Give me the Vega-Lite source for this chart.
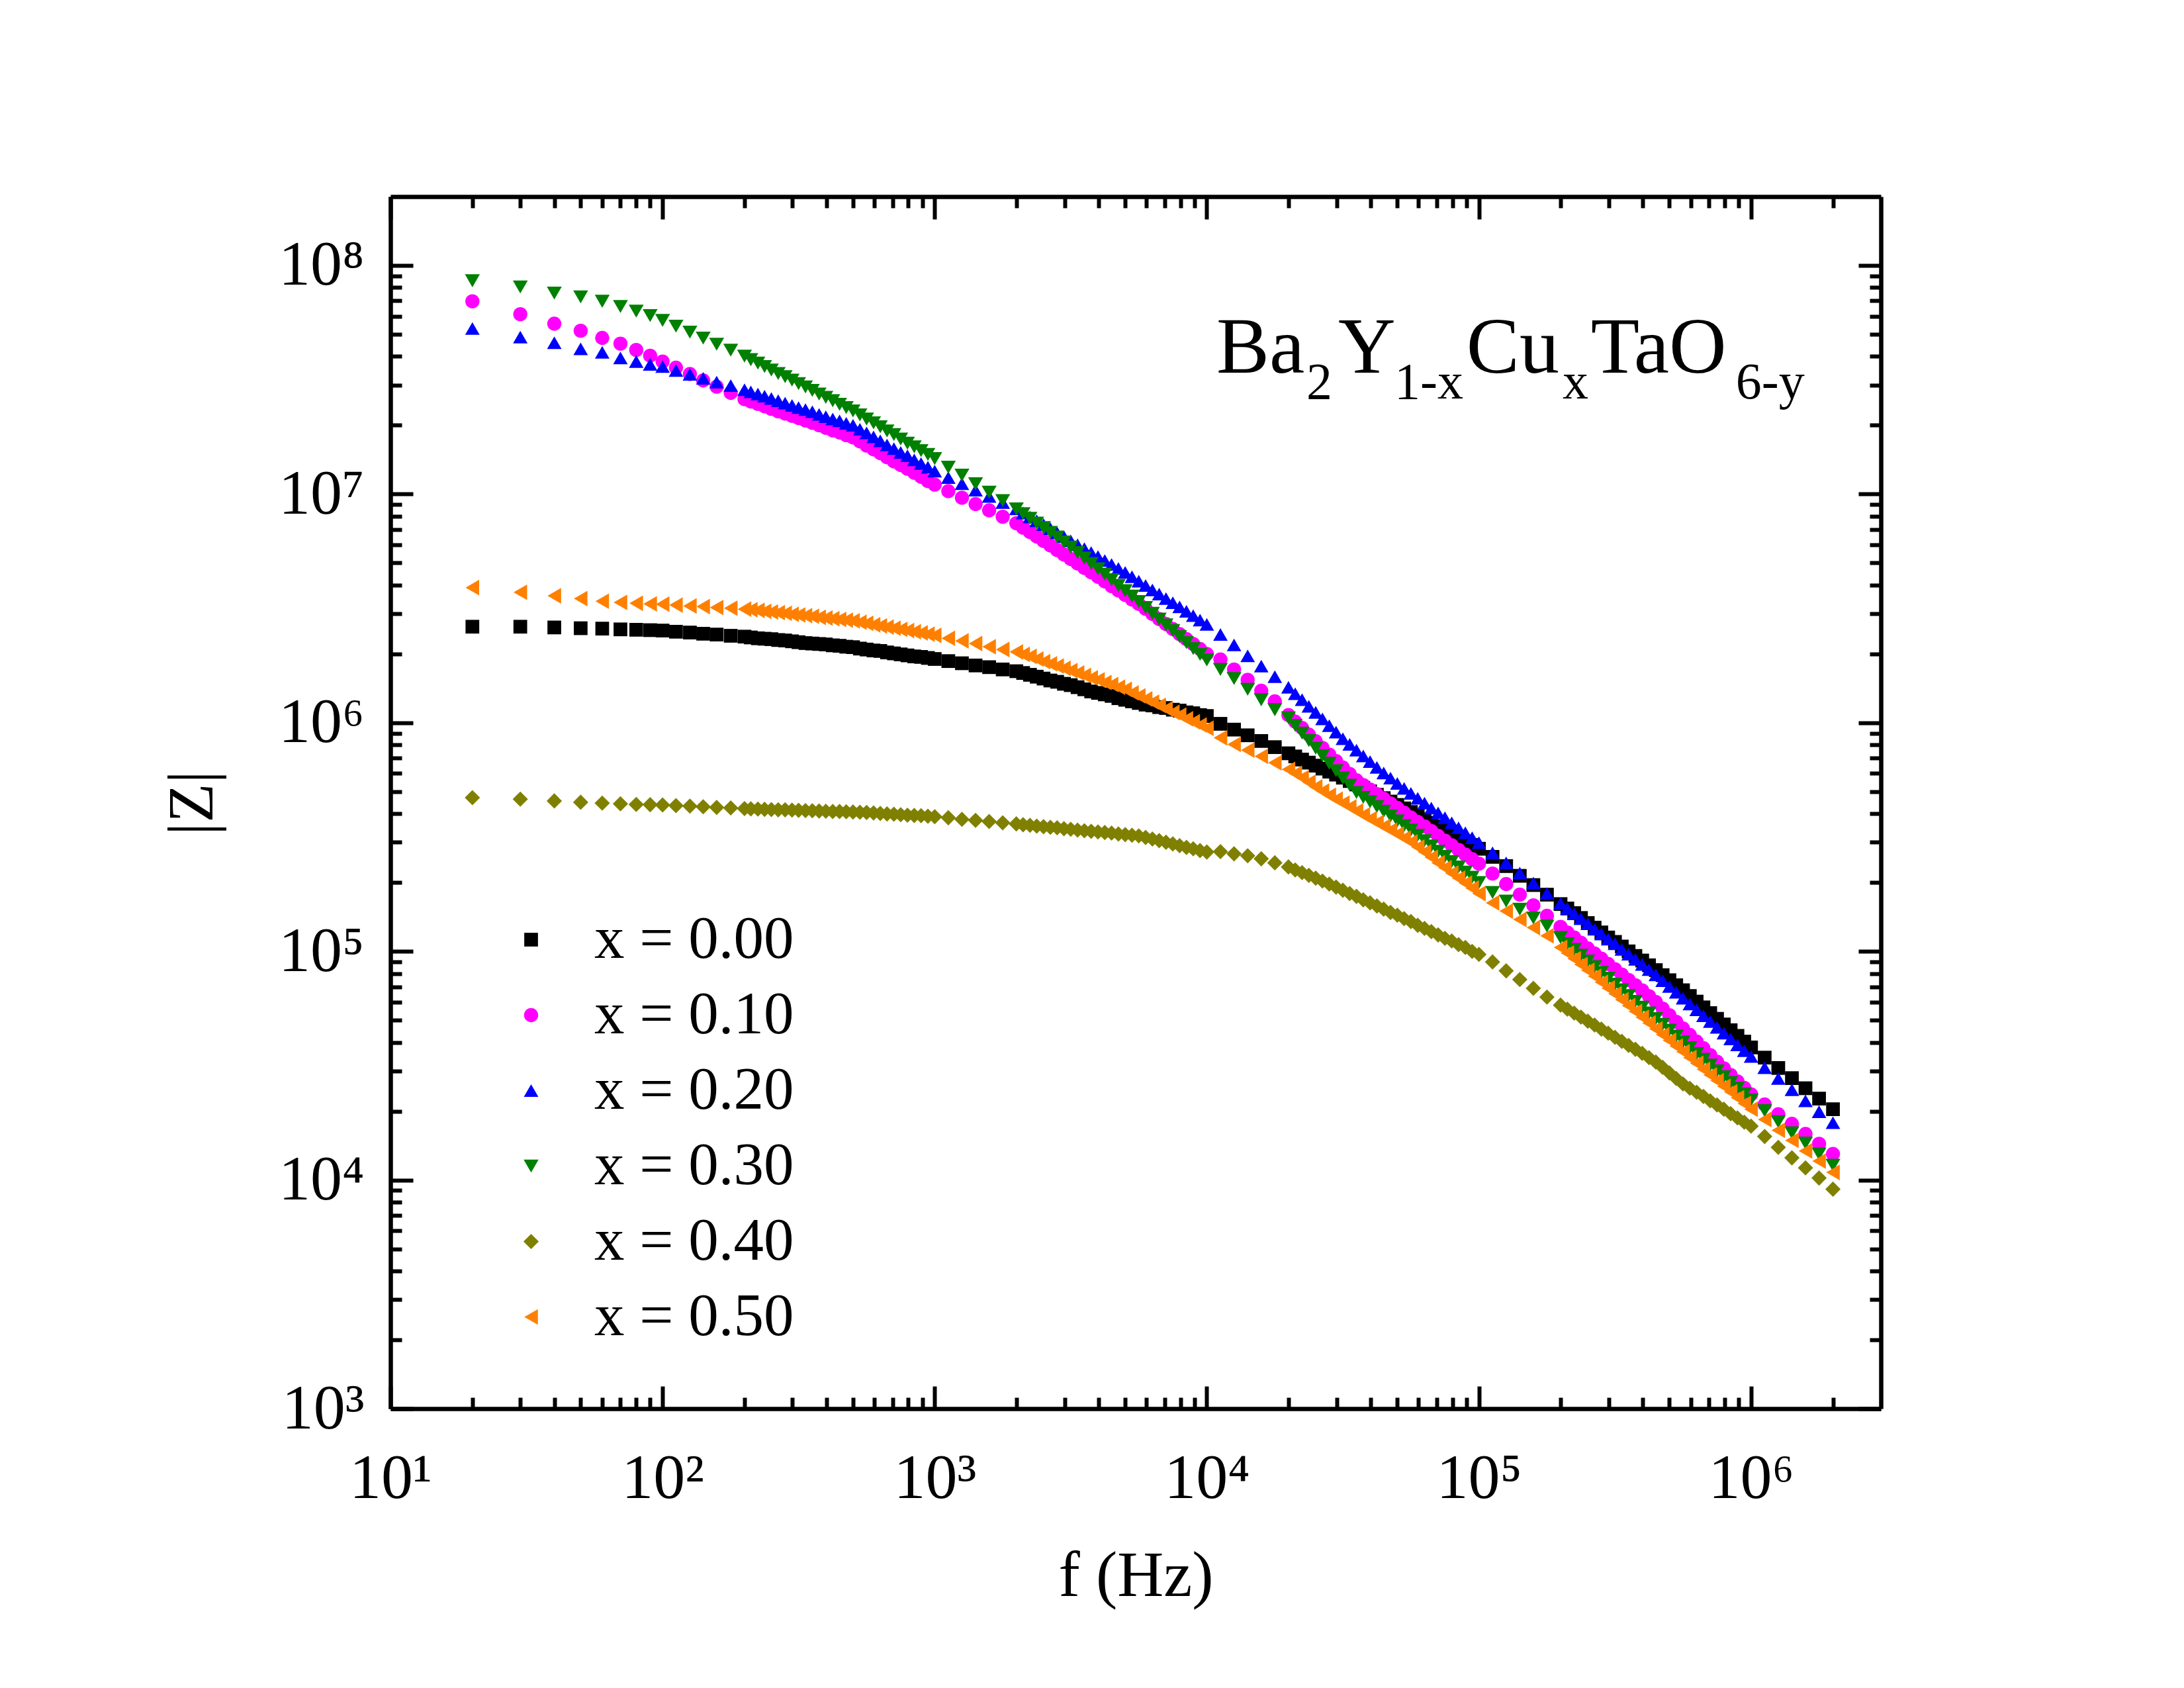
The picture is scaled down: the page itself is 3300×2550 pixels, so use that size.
{
  "$schema": "https://vega.github.io/schema/vega-lite/v6.json",
  "width": 2252,
  "height": 1831,
  "autosize": {"type": "none"},
  "padding": {"left": 590, "top": 297, "right": 458, "bottom": 422},
  "background": "white",
  "config": {
    "view": {"stroke": null},
    "font": "Liberation Serif",
    "axis": {
      "grid": false,
      "domainColor": "black",
      "domainWidth": 6.5,
      "tickColor": "black",
      "tickWidth": 6,
      "labelFont": "Liberation Serif",
      "labelFontSize": 96,
      "labelColor": "black",
      "labelOverlap": false,
      "labelFlush": false,
      "labelBound": false,
      "titleFont": "Liberation Serif",
      "titleFontSize": 97,
      "titleFontWeight": "normal",
      "titleColor": "black"
    }
  },
  "datasets": {
    "impedance": [
      {"x":"0.00","f":20,"z":2.63e6},{"x":"0.00","f":30,"z":2.63e6},{"x":"0.00","f":40,"z":2.61e6},{"x":"0.00","f":50,"z":2.59e6},{"x":"0.00","f":60,"z":2.58e6},{"x":"0.00","f":70,"z":2.56e6},{"x":"0.00","f":80,"z":2.55e6},{"x":"0.00","f":90,"z":2.54e6},
      {"x":"0.00","f":100,"z":2.53e6},{"x":"0.00","f":112,"z":2.50e6},{"x":"0.00","f":126,"z":2.48e6},{"x":"0.00","f":141,"z":2.45e6},{"x":"0.00","f":158,"z":2.43e6},{"x":"0.00","f":178,"z":2.40e6},{"x":"0.00","f":200,"z":2.38e6},{"x":"0.00","f":224,"z":2.34e6},{"x":"0.00","f":251,"z":2.32e6},{"x":"0.00","f":282,"z":2.29e6},{"x":"0.00","f":316,"z":2.25e6},{"x":"0.00","f":355,"z":2.22e6},{"x":"0.00","f":398,"z":2.20e6},{"x":"0.00","f":447,"z":2.17e6},{"x":"0.00","f":501,"z":2.14e6},{"x":"0.00","f":562,"z":2.09e6},{"x":"0.00","f":631,"z":2.06e6},{"x":"0.00","f":708,"z":2.01e6},{"x":"0.00","f":794,"z":1.97e6},{"x":"0.00","f":891,"z":1.94e6},
      {"x":"0.00","f":1000,"z":1.90e6},{"x":"0.00","f":1122,"z":1.86e6},{"x":"0.00","f":1259,"z":1.82e6},{"x":"0.00","f":1413,"z":1.78e6},{"x":"0.00","f":1585,"z":1.75e6},{"x":"0.00","f":1778,"z":1.71e6},{"x":"0.00","f":1995,"z":1.68e6},{"x":"0.00","f":2239,"z":1.62e6},{"x":"0.00","f":2512,"z":1.56e6},{"x":"0.00","f":2818,"z":1.51e6},{"x":"0.00","f":3162,"z":1.46e6},{"x":"0.00","f":3548,"z":1.40e6},{"x":"0.00","f":3981,"z":1.35e6},{"x":"0.00","f":4467,"z":1.31e6},{"x":"0.00","f":5012,"z":1.26e6},{"x":"0.00","f":5623,"z":1.22e6},{"x":"0.00","f":6310,"z":1.19e6},{"x":"0.00","f":7079,"z":1.16e6},{"x":"0.00","f":7943,"z":1.13e6},{"x":"0.00","f":8913,"z":1.10e6},
      {"x":"0.00","f":10000,"z":1.07e6},{"x":"0.00","f":11220,"z":9.89e5},{"x":"0.00","f":12590,"z":9.33e5},{"x":"0.00","f":14130,"z":8.81e5},{"x":"0.00","f":15850,"z":8.32e5},{"x":"0.00","f":17780,"z":7.82e5},{"x":"0.00","f":19950,"z":7.35e5},{"x":"0.00","f":22390,"z":6.90e5},{"x":"0.00","f":25120,"z":6.49e5},{"x":"0.00","f":28180,"z":6.11e5},{"x":"0.00","f":31620,"z":5.75e5},{"x":"0.00","f":35480,"z":5.37e5},{"x":"0.00","f":39810,"z":5.01e5},{"x":"0.00","f":44670,"z":4.68e5},{"x":"0.00","f":50120,"z":4.37e5},{"x":"0.00","f":56230,"z":4.07e5},{"x":"0.00","f":63100,"z":3.78e5},{"x":"0.00","f":70790,"z":3.52e5},{"x":"0.00","f":79430,"z":3.27e5},{"x":"0.00","f":89130,"z":3.03e5},
      {"x":"0.00","f":100000,"z":2.81e5},{"x":"0.00","f":112200,"z":2.59e5},{"x":"0.00","f":125900,"z":2.36e5},{"x":"0.00","f":141300,"z":2.14e5},{"x":"0.00","f":158500,"z":1.95e5},{"x":"0.00","f":177800,"z":1.77e5},{"x":"0.00","f":199500,"z":1.61e5},{"x":"0.00","f":223900,"z":1.47e5},{"x":"0.00","f":251200,"z":1.33e5},{"x":"0.00","f":281800,"z":1.21e5},{"x":"0.00","f":316200,"z":1.10e5},{"x":"0.00","f":354800,"z":1.00e5},{"x":"0.00","f":398100,"z":9.12e4},{"x":"0.00","f":446700,"z":8.28e4},{"x":"0.00","f":501200,"z":7.48e4},{"x":"0.00","f":562300,"z":6.76e4},{"x":"0.00","f":631000,"z":6.03e4},{"x":"0.00","f":707900,"z":5.37e4},{"x":"0.00","f":794300,"z":4.79e4},{"x":"0.00","f":891300,"z":4.27e4},
      {"x":"0.00","f":1000000,"z":3.80e4},{"x":"0.00","f":1122000,"z":3.43e4},{"x":"0.00","f":1259000,"z":3.09e4},{"x":"0.00","f":1413000,"z":2.79e4},{"x":"0.00","f":1585000,"z":2.52e4},{"x":"0.00","f":1778000,"z":2.27e4},{"x":"0.00","f":2000000,"z":2.04e4},
      {"x":"0.00","f":211,"z":2.36e6},{"x":"0.00","f":237,"z":2.33e6},{"x":"0.00","f":266,"z":2.30e6},{"x":"0.00","f":299,"z":2.27e6},{"x":"0.00","f":335,"z":2.23e6},{"x":"0.00","f":376,"z":2.21e6},{"x":"0.00","f":422,"z":2.18e6},{"x":"0.00","f":473,"z":2.15e6},{"x":"0.00","f":531,"z":2.11e6},{"x":"0.00","f":596,"z":2.07e6},{"x":"0.00","f":668,"z":2.03e6},{"x":"0.00","f":750,"z":1.99e6},{"x":"0.00","f":841,"z":1.95e6},{"x":"0.00","f":944,"z":1.92e6},
      {"x":"0.00","f":2113,"z":1.65e6},{"x":"0.00","f":2371,"z":1.59e6},{"x":"0.00","f":2661,"z":1.53e6},{"x":"0.00","f":2985,"z":1.48e6},{"x":"0.00","f":3350,"z":1.43e6},{"x":"0.00","f":3758,"z":1.37e6},{"x":"0.00","f":4217,"z":1.33e6},{"x":"0.00","f":4732,"z":1.28e6},{"x":"0.00","f":5309,"z":1.24e6},{"x":"0.00","f":5957,"z":1.20e6},{"x":"0.00","f":6683,"z":1.17e6},{"x":"0.00","f":7499,"z":1.14e6},{"x":"0.00","f":8414,"z":1.11e6},{"x":"0.00","f":9441,"z":1.08e6},
      {"x":"0.00","f":21130,"z":7.12e5},{"x":"0.00","f":23710,"z":6.69e5},{"x":"0.00","f":26610,"z":6.30e5},{"x":"0.00","f":29850,"z":5.93e5},{"x":"0.00","f":33500,"z":5.56e5},{"x":"0.00","f":37580,"z":5.19e5},{"x":"0.00","f":42170,"z":4.84e5},{"x":"0.00","f":47320,"z":4.52e5},{"x":"0.00","f":53090,"z":4.22e5},{"x":"0.00","f":59570,"z":3.92e5},{"x":"0.00","f":66830,"z":3.65e5},{"x":"0.00","f":74990,"z":3.39e5},{"x":"0.00","f":84140,"z":3.15e5},{"x":"0.00","f":94410,"z":2.92e5},
      {"x":"0.00","f":211300,"z":1.54e5},{"x":"0.00","f":237100,"z":1.40e5},{"x":"0.00","f":266100,"z":1.27e5},{"x":"0.00","f":298500,"z":1.15e5},{"x":"0.00","f":335000,"z":1.05e5},{"x":"0.00","f":375800,"z":9.55e4},{"x":"0.00","f":421700,"z":8.69e4},{"x":"0.00","f":473200,"z":7.87e4},{"x":"0.00","f":530900,"z":7.11e4},{"x":"0.00","f":595700,"z":6.38e4},{"x":"0.00","f":668300,"z":5.69e4},{"x":"0.00","f":749900,"z":5.07e4},{"x":"0.00","f":841400,"z":4.52e4},{"x":"0.00","f":944100,"z":4.03e4},

      {"x":"0.10","f":20,"z":6.97e7},{"x":"0.10","f":30,"z":6.12e7},{"x":"0.10","f":40,"z":5.56e7},{"x":"0.10","f":50,"z":5.18e7},{"x":"0.10","f":60,"z":4.82e7},{"x":"0.10","f":70,"z":4.55e7},{"x":"0.10","f":80,"z":4.27e7},{"x":"0.10","f":90,"z":4.03e7},
      {"x":"0.10","f":100,"z":3.80e7},{"x":"0.10","f":112,"z":3.57e7},{"x":"0.10","f":126,"z":3.35e7},{"x":"0.10","f":141,"z":3.14e7},{"x":"0.10","f":158,"z":2.95e7},{"x":"0.10","f":178,"z":2.77e7},{"x":"0.10","f":200,"z":2.60e7},{"x":"0.10","f":224,"z":2.48e7},{"x":"0.10","f":251,"z":2.36e7},{"x":"0.10","f":282,"z":2.25e7},{"x":"0.10","f":316,"z":2.15e7},{"x":"0.10","f":355,"z":2.05e7},{"x":"0.10","f":398,"z":1.95e7},{"x":"0.10","f":447,"z":1.86e7},{"x":"0.10","f":501,"z":1.77e7},{"x":"0.10","f":562,"z":1.63e7},{"x":"0.10","f":631,"z":1.51e7},{"x":"0.10","f":708,"z":1.39e7},{"x":"0.10","f":794,"z":1.29e7},{"x":"0.10","f":891,"z":1.19e7},
      {"x":"0.10","f":1000,"z":1.10e7},{"x":"0.10","f":1122,"z":1.03e7},{"x":"0.10","f":1259,"z":9.64e6},{"x":"0.10","f":1413,"z":9.04e6},{"x":"0.10","f":1585,"z":8.49e6},{"x":"0.10","f":1778,"z":7.96e6},{"x":"0.10","f":1995,"z":7.46e6},{"x":"0.10","f":2239,"z":6.82e6},{"x":"0.10","f":2512,"z":6.24e6},{"x":"0.10","f":2818,"z":5.69e6},{"x":"0.10","f":3162,"z":5.20e6},{"x":"0.10","f":3548,"z":4.75e6},{"x":"0.10","f":3981,"z":4.35e6},{"x":"0.10","f":4467,"z":3.96e6},{"x":"0.10","f":5012,"z":3.62e6},{"x":"0.10","f":5623,"z":3.31e6},{"x":"0.10","f":6310,"z":2.99e6},{"x":"0.10","f":7079,"z":2.70e6},{"x":"0.10","f":7943,"z":2.44e6},{"x":"0.10","f":8913,"z":2.21e6},
      {"x":"0.10","f":10000,"z":2.00e6},{"x":"0.10","f":11220,"z":1.89e6},{"x":"0.10","f":12590,"z":1.71e6},{"x":"0.10","f":14130,"z":1.54e6},{"x":"0.10","f":15850,"z":1.38e6},{"x":"0.10","f":17780,"z":1.24e6},{"x":"0.10","f":19950,"z":1.08e6},{"x":"0.10","f":22390,"z":9.48e5},{"x":"0.10","f":25120,"z":8.30e5},{"x":"0.10","f":28180,"z":7.26e5},{"x":"0.10","f":31620,"z":6.37e5},{"x":"0.10","f":35480,"z":5.60e5},{"x":"0.10","f":39810,"z":5.10e5},{"x":"0.10","f":44670,"z":4.65e5},{"x":"0.10","f":50120,"z":4.24e5},{"x":"0.10","f":56230,"z":3.85e5},{"x":"0.10","f":63100,"z":3.52e5},{"x":"0.10","f":70790,"z":3.20e5},{"x":"0.10","f":79430,"z":2.91e5},{"x":"0.10","f":89130,"z":2.65e5},
      {"x":"0.10","f":100000,"z":2.42e5},{"x":"0.10","f":112200,"z":2.19e5},{"x":"0.10","f":125900,"z":1.97e5},{"x":"0.10","f":141300,"z":1.77e5},{"x":"0.10","f":158500,"z":1.59e5},{"x":"0.10","f":177800,"z":1.43e5},{"x":"0.10","f":199500,"z":1.28e5},{"x":"0.10","f":223900,"z":1.15e5},{"x":"0.10","f":251200,"z":1.03e5},{"x":"0.10","f":281800,"z":9.29e4},{"x":"0.10","f":316200,"z":8.36e4},{"x":"0.10","f":354800,"z":7.50e4},{"x":"0.10","f":398100,"z":6.75e4},{"x":"0.10","f":446700,"z":6.01e4},{"x":"0.10","f":501200,"z":5.26e4},{"x":"0.10","f":562300,"z":4.60e4},{"x":"0.10","f":631000,"z":4.03e4},{"x":"0.10","f":707900,"z":3.52e4},{"x":"0.10","f":794300,"z":3.08e4},{"x":"0.10","f":891300,"z":2.70e4},
      {"x":"0.10","f":1000000,"z":2.37e4},{"x":"0.10","f":1122000,"z":2.14e4},{"x":"0.10","f":1259000,"z":1.94e4},{"x":"0.10","f":1413000,"z":1.76e4},{"x":"0.10","f":1585000,"z":1.59e4},{"x":"0.10","f":1778000,"z":1.44e4},{"x":"0.10","f":2000000,"z":1.30e4},
      {"x":"0.10","f":211,"z":2.54e7},{"x":"0.10","f":237,"z":2.42e7},{"x":"0.10","f":266,"z":2.30e7},{"x":"0.10","f":299,"z":2.20e7},{"x":"0.10","f":335,"z":2.10e7},{"x":"0.10","f":376,"z":2.00e7},{"x":"0.10","f":422,"z":1.90e7},{"x":"0.10","f":473,"z":1.81e7},{"x":"0.10","f":531,"z":1.70e7},{"x":"0.10","f":596,"z":1.57e7},{"x":"0.10","f":668,"z":1.45e7},{"x":"0.10","f":750,"z":1.34e7},{"x":"0.10","f":841,"z":1.24e7},{"x":"0.10","f":944,"z":1.14e7},
      {"x":"0.10","f":2113,"z":7.13e6},{"x":"0.10","f":2371,"z":6.52e6},{"x":"0.10","f":2661,"z":5.96e6},{"x":"0.10","f":2985,"z":5.44e6},{"x":"0.10","f":3350,"z":4.97e6},{"x":"0.10","f":3758,"z":4.55e6},{"x":"0.10","f":4217,"z":4.15e6},{"x":"0.10","f":4732,"z":3.79e6},{"x":"0.10","f":5309,"z":3.46e6},{"x":"0.10","f":5957,"z":3.15e6},{"x":"0.10","f":6683,"z":2.84e6},{"x":"0.10","f":7499,"z":2.57e6},{"x":"0.10","f":8414,"z":2.32e6},{"x":"0.10","f":9441,"z":2.10e6},
      {"x":"0.10","f":21130,"z":1.01e6},{"x":"0.10","f":23710,"z":8.87e5},{"x":"0.10","f":26610,"z":7.76e5},{"x":"0.10","f":29850,"z":6.80e5},{"x":"0.10","f":33500,"z":5.97e5},{"x":"0.10","f":37580,"z":5.34e5},{"x":"0.10","f":42170,"z":4.87e5},{"x":"0.10","f":47320,"z":4.44e5},{"x":"0.10","f":53090,"z":4.04e5},{"x":"0.10","f":59570,"z":3.68e5},{"x":"0.10","f":66830,"z":3.36e5},{"x":"0.10","f":74990,"z":3.05e5},{"x":"0.10","f":84140,"z":2.78e5},{"x":"0.10","f":94410,"z":2.53e5},
      {"x":"0.10","f":211300,"z":1.21e5},{"x":"0.10","f":237100,"z":1.09e5},{"x":"0.10","f":266100,"z":9.78e4},{"x":"0.10","f":298500,"z":8.81e4},{"x":"0.10","f":335000,"z":7.92e4},{"x":"0.10","f":375800,"z":7.11e4},{"x":"0.10","f":421700,"z":6.37e4},{"x":"0.10","f":473200,"z":5.62e4},{"x":"0.10","f":530900,"z":4.92e4},{"x":"0.10","f":595700,"z":4.31e4},{"x":"0.10","f":668300,"z":3.77e4},{"x":"0.10","f":749900,"z":3.29e4},{"x":"0.10","f":841400,"z":2.88e4},{"x":"0.10","f":944100,"z":2.53e4},

      {"x":"0.20","f":20,"z":5.30e7},{"x":"0.20","f":30,"z":4.86e7},{"x":"0.20","f":40,"z":4.59e7},{"x":"0.20","f":50,"z":4.32e7},{"x":"0.20","f":60,"z":4.17e7},{"x":"0.20","f":70,"z":3.94e7},{"x":"0.20","f":80,"z":3.80e7},{"x":"0.20","f":90,"z":3.69e7},
      {"x":"0.20","f":100,"z":3.61e7},{"x":"0.20","f":112,"z":3.47e7},{"x":"0.20","f":126,"z":3.34e7},{"x":"0.20","f":141,"z":3.21e7},{"x":"0.20","f":158,"z":3.09e7},{"x":"0.20","f":178,"z":2.98e7},{"x":"0.20","f":200,"z":2.86e7},{"x":"0.20","f":224,"z":2.74e7},{"x":"0.20","f":251,"z":2.62e7},{"x":"0.20","f":282,"z":2.50e7},{"x":"0.20","f":316,"z":2.39e7},{"x":"0.20","f":355,"z":2.29e7},{"x":"0.20","f":398,"z":2.18e7},{"x":"0.20","f":447,"z":2.09e7},{"x":"0.20","f":501,"z":2.00e7},{"x":"0.20","f":562,"z":1.85e7},{"x":"0.20","f":631,"z":1.71e7},{"x":"0.20","f":708,"z":1.58e7},{"x":"0.20","f":794,"z":1.47e7},{"x":"0.20","f":891,"z":1.36e7},
      {"x":"0.20","f":1000,"z":1.26e7},{"x":"0.20","f":1122,"z":1.18e7},{"x":"0.20","f":1259,"z":1.11e7},{"x":"0.20","f":1413,"z":1.04e7},{"x":"0.20","f":1585,"z":9.77e6},{"x":"0.20","f":1778,"z":9.18e6},{"x":"0.20","f":1995,"z":8.61e6},{"x":"0.20","f":2239,"z":7.94e6},{"x":"0.20","f":2512,"z":7.35e6},{"x":"0.20","f":2818,"z":6.78e6},{"x":"0.20","f":3162,"z":6.25e6},{"x":"0.20","f":3548,"z":5.77e6},{"x":"0.20","f":3981,"z":5.33e6},{"x":"0.20","f":4467,"z":4.92e6},{"x":"0.20","f":5012,"z":4.54e6},{"x":"0.20","f":5623,"z":4.16e6},{"x":"0.20","f":6310,"z":3.81e6},{"x":"0.20","f":7079,"z":3.49e6},{"x":"0.20","f":7943,"z":3.21e6},{"x":"0.20","f":8913,"z":2.94e6},
      {"x":"0.20","f":10000,"z":2.69e6},{"x":"0.20","f":11220,"z":2.43e6},{"x":"0.20","f":12590,"z":2.19e6},{"x":"0.20","f":14130,"z":1.96e6},{"x":"0.20","f":15850,"z":1.77e6},{"x":"0.20","f":17780,"z":1.59e6},{"x":"0.20","f":19950,"z":1.43e6},{"x":"0.20","f":22390,"z":1.26e6},{"x":"0.20","f":25120,"z":1.11e6},{"x":"0.20","f":28180,"z":9.70e5},{"x":"0.20","f":31620,"z":8.51e5},{"x":"0.20","f":35480,"z":7.59e5},{"x":"0.20","f":39810,"z":6.76e5},{"x":"0.20","f":44670,"z":6.03e5},{"x":"0.20","f":50120,"z":5.43e5},{"x":"0.20","f":56230,"z":4.91e5},{"x":"0.20","f":63100,"z":4.45e5},{"x":"0.20","f":70790,"z":4.03e5},{"x":"0.20","f":79430,"z":3.65e5},{"x":"0.20","f":89130,"z":3.30e5},
      {"x":"0.20","f":100000,"z":2.99e5},{"x":"0.20","f":112200,"z":2.70e5},{"x":"0.20","f":125900,"z":2.44e5},{"x":"0.20","f":141300,"z":2.20e5},{"x":"0.20","f":158500,"z":1.99e5},{"x":"0.20","f":177800,"z":1.79e5},{"x":"0.20","f":199500,"z":1.62e5},{"x":"0.20","f":223900,"z":1.46e5},{"x":"0.20","f":251200,"z":1.32e5},{"x":"0.20","f":281800,"z":1.19e5},{"x":"0.20","f":316200,"z":1.08e5},{"x":"0.20","f":354800,"z":9.71e4},{"x":"0.20","f":398100,"z":8.77e4},{"x":"0.20","f":446700,"z":7.89e4},{"x":"0.20","f":501200,"z":7.02e4},{"x":"0.20","f":562300,"z":6.24e4},{"x":"0.20","f":631000,"z":5.55e4},{"x":"0.20","f":707900,"z":4.93e4},{"x":"0.20","f":794300,"z":4.39e4},{"x":"0.20","f":891300,"z":3.90e4},
      {"x":"0.20","f":1000000,"z":3.47e4},{"x":"0.20","f":1122000,"z":3.10e4},{"x":"0.20","f":1259000,"z":2.78e4},{"x":"0.20","f":1413000,"z":2.48e4},{"x":"0.20","f":1585000,"z":2.22e4},{"x":"0.20","f":1778000,"z":1.99e4},{"x":"0.20","f":2000000,"z":1.78e4},
      {"x":"0.20","f":211,"z":2.80e7},{"x":"0.20","f":237,"z":2.68e7},{"x":"0.20","f":266,"z":2.56e7},{"x":"0.20","f":299,"z":2.44e7},{"x":"0.20","f":335,"z":2.34e7},{"x":"0.20","f":376,"z":2.23e7},{"x":"0.20","f":422,"z":2.13e7},{"x":"0.20","f":473,"z":2.04e7},{"x":"0.20","f":531,"z":1.92e7},{"x":"0.20","f":596,"z":1.78e7},{"x":"0.20","f":668,"z":1.64e7},{"x":"0.20","f":750,"z":1.52e7},{"x":"0.20","f":841,"z":1.41e7},{"x":"0.20","f":944,"z":1.31e7},
      {"x":"0.20","f":2113,"z":8.27e6},{"x":"0.20","f":2371,"z":7.64e6},{"x":"0.20","f":2661,"z":7.06e6},{"x":"0.20","f":2985,"z":6.51e6},{"x":"0.20","f":3350,"z":6.00e6},{"x":"0.20","f":3758,"z":5.55e6},{"x":"0.20","f":4217,"z":5.12e6},{"x":"0.20","f":4732,"z":4.73e6},{"x":"0.20","f":5309,"z":4.35e6},{"x":"0.20","f":5957,"z":3.98e6},{"x":"0.20","f":6683,"z":3.65e6},{"x":"0.20","f":7499,"z":3.35e6},{"x":"0.20","f":8414,"z":3.07e6},{"x":"0.20","f":9441,"z":2.81e6},
      {"x":"0.20","f":21130,"z":1.34e6},{"x":"0.20","f":23710,"z":1.18e6},{"x":"0.20","f":26610,"z":1.04e6},{"x":"0.20","f":29850,"z":9.09e5},{"x":"0.20","f":33500,"z":8.04e5},{"x":"0.20","f":37580,"z":7.16e5},{"x":"0.20","f":42170,"z":6.38e5},{"x":"0.20","f":47320,"z":5.72e5},{"x":"0.20","f":53090,"z":5.16e5},{"x":"0.20","f":59570,"z":4.67e5},{"x":"0.20","f":66830,"z":4.23e5},{"x":"0.20","f":74990,"z":3.84e5},{"x":"0.20","f":84140,"z":3.47e5},{"x":"0.20","f":94410,"z":3.14e5},
      {"x":"0.20","f":211300,"z":1.54e5},{"x":"0.20","f":237100,"z":1.39e5},{"x":"0.20","f":266100,"z":1.25e5},{"x":"0.20","f":298500,"z":1.13e5},{"x":"0.20","f":335000,"z":1.02e5},{"x":"0.20","f":375800,"z":9.23e4},{"x":"0.20","f":421700,"z":8.32e4},{"x":"0.20","f":473200,"z":7.44e4},{"x":"0.20","f":530900,"z":6.62e4},{"x":"0.20","f":595700,"z":5.88e4},{"x":"0.20","f":668300,"z":5.23e4},{"x":"0.20","f":749900,"z":4.65e4},{"x":"0.20","f":841400,"z":4.14e4},{"x":"0.20","f":944100,"z":3.68e4},

      {"x":"0.30","f":20,"z":8.57e7},{"x":"0.30","f":30,"z":8.05e7},{"x":"0.30","f":40,"z":7.57e7},{"x":"0.30","f":50,"z":7.28e7},{"x":"0.30","f":60,"z":6.97e7},{"x":"0.30","f":70,"z":6.61e7},{"x":"0.30","f":80,"z":6.31e7},{"x":"0.30","f":90,"z":6.03e7},
      {"x":"0.30","f":100,"z":5.75e7},{"x":"0.30","f":112,"z":5.42e7},{"x":"0.30","f":126,"z":5.11e7},{"x":"0.30","f":141,"z":4.81e7},{"x":"0.30","f":158,"z":4.52e7},{"x":"0.30","f":178,"z":4.26e7},{"x":"0.30","f":200,"z":4.01e7},{"x":"0.30","f":224,"z":3.74e7},{"x":"0.30","f":251,"z":3.49e7},{"x":"0.30","f":282,"z":3.26e7},{"x":"0.30","f":316,"z":3.04e7},{"x":"0.30","f":355,"z":2.84e7},{"x":"0.30","f":398,"z":2.65e7},{"x":"0.30","f":447,"z":2.47e7},{"x":"0.30","f":501,"z":2.31e7},{"x":"0.30","f":562,"z":2.13e7},{"x":"0.30","f":631,"z":1.97e7},{"x":"0.30","f":708,"z":1.82e7},{"x":"0.30","f":794,"z":1.67e7},{"x":"0.30","f":891,"z":1.55e7},
      {"x":"0.30","f":1000,"z":1.43e7},{"x":"0.30","f":1122,"z":1.31e7},{"x":"0.30","f":1259,"z":1.21e7},{"x":"0.30","f":1413,"z":1.11e7},{"x":"0.30","f":1585,"z":1.02e7},{"x":"0.30","f":1778,"z":9.37e6},{"x":"0.30","f":1995,"z":8.61e6},{"x":"0.30","f":2239,"z":7.83e6},{"x":"0.30","f":2512,"z":7.13e6},{"x":"0.30","f":2818,"z":6.49e6},{"x":"0.30","f":3162,"z":5.86e6},{"x":"0.30","f":3548,"z":5.25e6},{"x":"0.30","f":3981,"z":4.71e6},{"x":"0.30","f":4467,"z":4.22e6},{"x":"0.30","f":5012,"z":3.78e6},{"x":"0.30","f":5623,"z":3.39e6},{"x":"0.30","f":6310,"z":3.01e6},{"x":"0.30","f":7079,"z":2.68e6},{"x":"0.30","f":7943,"z":2.38e6},{"x":"0.30","f":8913,"z":2.11e6},
      {"x":"0.30","f":10000,"z":1.88e6},{"x":"0.30","f":11220,"z":1.71e6},{"x":"0.30","f":12590,"z":1.56e6},{"x":"0.30","f":14130,"z":1.40e6},{"x":"0.30","f":15850,"z":1.26e6},{"x":"0.30","f":17780,"z":1.14e6},{"x":"0.30","f":19950,"z":1.05e6},{"x":"0.30","f":22390,"z":9.00e5},{"x":"0.30","f":25120,"z":7.74e5},{"x":"0.30","f":28180,"z":6.65e5},{"x":"0.30","f":31620,"z":5.73e5},{"x":"0.30","f":35480,"z":4.95e5},{"x":"0.30","f":39810,"z":4.51e5},{"x":"0.30","f":44670,"z":4.10e5},{"x":"0.30","f":50120,"z":3.72e5},{"x":"0.30","f":56230,"z":3.39e5},{"x":"0.30","f":63100,"z":3.05e5},{"x":"0.30","f":70790,"z":2.74e5},{"x":"0.30","f":79430,"z":2.47e5},{"x":"0.30","f":89130,"z":2.22e5},
      {"x":"0.30","f":100000,"z":2.00e5},{"x":"0.30","f":112200,"z":1.81e5},{"x":"0.30","f":125900,"z":1.66e5},{"x":"0.30","f":141300,"z":1.53e5},{"x":"0.30","f":158500,"z":1.40e5},{"x":"0.30","f":177800,"z":1.29e5},{"x":"0.30","f":199500,"z":1.15e5},{"x":"0.30","f":223900,"z":1.02e5},{"x":"0.30","f":251200,"z":9.08e4},{"x":"0.30","f":281800,"z":8.09e4},{"x":"0.30","f":316200,"z":7.19e4},{"x":"0.30","f":354800,"z":6.41e4},{"x":"0.30","f":398100,"z":5.70e4},{"x":"0.30","f":446700,"z":5.08e4},{"x":"0.30","f":501200,"z":4.52e4},{"x":"0.30","f":562300,"z":4.02e4},{"x":"0.30","f":631000,"z":3.57e4},{"x":"0.30","f":707900,"z":3.18e4},{"x":"0.30","f":794300,"z":2.83e4},{"x":"0.30","f":891300,"z":2.52e4},
      {"x":"0.30","f":1000000,"z":2.24e4},{"x":"0.30","f":1122000,"z":2.01e4},{"x":"0.30","f":1259000,"z":1.80e4},{"x":"0.30","f":1413000,"z":1.61e4},{"x":"0.30","f":1585000,"z":1.45e4},{"x":"0.30","f":1778000,"z":1.30e4},{"x":"0.30","f":2000000,"z":1.16e4},
      {"x":"0.30","f":211,"z":3.87e7},{"x":"0.30","f":237,"z":3.61e7},{"x":"0.30","f":266,"z":3.37e7},{"x":"0.30","f":299,"z":3.15e7},{"x":"0.30","f":335,"z":2.94e7},{"x":"0.30","f":376,"z":2.74e7},{"x":"0.30","f":422,"z":2.56e7},{"x":"0.30","f":473,"z":2.39e7},{"x":"0.30","f":531,"z":2.22e7},{"x":"0.30","f":596,"z":2.05e7},{"x":"0.30","f":668,"z":1.89e7},{"x":"0.30","f":750,"z":1.74e7},{"x":"0.30","f":841,"z":1.61e7},{"x":"0.30","f":944,"z":1.49e7},
      {"x":"0.30","f":2113,"z":8.21e6},{"x":"0.30","f":2371,"z":7.47e6},{"x":"0.30","f":2661,"z":6.80e6},{"x":"0.30","f":2985,"z":6.17e6},{"x":"0.30","f":3350,"z":5.55e6},{"x":"0.30","f":3758,"z":4.97e6},{"x":"0.30","f":4217,"z":4.46e6},{"x":"0.30","f":4732,"z":3.99e6},{"x":"0.30","f":5309,"z":3.58e6},{"x":"0.30","f":5957,"z":3.19e6},{"x":"0.30","f":6683,"z":2.84e6},{"x":"0.30","f":7499,"z":2.53e6},{"x":"0.30","f":8414,"z":2.24e6},{"x":"0.30","f":9441,"z":1.99e6},
      {"x":"0.30","f":21130,"z":9.72e5},{"x":"0.30","f":23710,"z":8.35e5},{"x":"0.30","f":26610,"z":7.17e5},{"x":"0.30","f":29850,"z":6.17e5},{"x":"0.30","f":33500,"z":5.33e5},{"x":"0.30","f":37580,"z":4.72e5},{"x":"0.30","f":42170,"z":4.30e5},{"x":"0.30","f":47320,"z":3.91e5},{"x":"0.30","f":53090,"z":3.55e5},{"x":"0.30","f":59570,"z":3.22e5},{"x":"0.30","f":66830,"z":2.89e5},{"x":"0.30","f":74990,"z":2.60e5},{"x":"0.30","f":84140,"z":2.34e5},{"x":"0.30","f":94410,"z":2.11e5},
      {"x":"0.30","f":211300,"z":1.08e5},{"x":"0.30","f":237100,"z":9.62e4},{"x":"0.30","f":266100,"z":8.57e4},{"x":"0.30","f":298500,"z":7.63e4},{"x":"0.30","f":335000,"z":6.79e4},{"x":"0.30","f":375800,"z":6.04e4},{"x":"0.30","f":421700,"z":5.38e4},{"x":"0.30","f":473200,"z":4.79e4},{"x":"0.30","f":530900,"z":4.26e4},{"x":"0.30","f":595700,"z":3.79e4},{"x":"0.30","f":668300,"z":3.37e4},{"x":"0.30","f":749900,"z":3.00e4},{"x":"0.30","f":841400,"z":2.67e4},{"x":"0.30","f":944100,"z":2.38e4},

      {"x":"0.40","f":20,"z":4.70e5},{"x":"0.40","f":30,"z":4.63e5},{"x":"0.40","f":40,"z":4.55e5},{"x":"0.40","f":50,"z":4.49e5},{"x":"0.40","f":60,"z":4.45e5},{"x":"0.40","f":70,"z":4.42e5},{"x":"0.40","f":80,"z":4.39e5},{"x":"0.40","f":90,"z":4.38e5},
      {"x":"0.40","f":100,"z":4.37e5},{"x":"0.40","f":112,"z":4.34e5},{"x":"0.40","f":126,"z":4.32e5},{"x":"0.40","f":141,"z":4.29e5},{"x":"0.40","f":158,"z":4.26e5},{"x":"0.40","f":178,"z":4.24e5},{"x":"0.40","f":200,"z":4.21e5},{"x":"0.40","f":224,"z":4.19e5},{"x":"0.40","f":251,"z":4.17e5},{"x":"0.40","f":282,"z":4.16e5},{"x":"0.40","f":316,"z":4.14e5},{"x":"0.40","f":355,"z":4.12e5},{"x":"0.40","f":398,"z":4.10e5},{"x":"0.40","f":447,"z":4.09e5},{"x":"0.40","f":501,"z":4.07e5},{"x":"0.40","f":562,"z":4.05e5},{"x":"0.40","f":631,"z":4.01e5},{"x":"0.40","f":708,"z":3.98e5},{"x":"0.40","f":794,"z":3.94e5},{"x":"0.40","f":891,"z":3.92e5},
      {"x":"0.40","f":1000,"z":3.88e5},{"x":"0.40","f":1122,"z":3.84e5},{"x":"0.40","f":1259,"z":3.78e5},{"x":"0.40","f":1413,"z":3.74e5},{"x":"0.40","f":1585,"z":3.70e5},{"x":"0.40","f":1778,"z":3.65e5},{"x":"0.40","f":1995,"z":3.61e5},{"x":"0.40","f":2239,"z":3.56e5},{"x":"0.40","f":2512,"z":3.51e5},{"x":"0.40","f":2818,"z":3.47e5},{"x":"0.40","f":3162,"z":3.42e5},{"x":"0.40","f":3548,"z":3.37e5},{"x":"0.40","f":3981,"z":3.33e5},{"x":"0.40","f":4467,"z":3.29e5},{"x":"0.40","f":5012,"z":3.24e5},{"x":"0.40","f":5623,"z":3.20e5},{"x":"0.40","f":6310,"z":3.10e5},{"x":"0.40","f":7079,"z":3.00e5},{"x":"0.40","f":7943,"z":2.90e5},{"x":"0.40","f":8913,"z":2.81e5},
      {"x":"0.40","f":10000,"z":2.72e5},{"x":"0.40","f":11220,"z":2.73e5},{"x":"0.40","f":12590,"z":2.67e5},{"x":"0.40","f":14130,"z":2.62e5},{"x":"0.40","f":15850,"z":2.54e5},{"x":"0.40","f":17780,"z":2.44e5},{"x":"0.40","f":19950,"z":2.34e5},{"x":"0.40","f":22390,"z":2.21e5},{"x":"0.40","f":25120,"z":2.09e5},{"x":"0.40","f":28180,"z":1.97e5},{"x":"0.40","f":31620,"z":1.85e5},{"x":"0.40","f":35480,"z":1.74e5},{"x":"0.40","f":39810,"z":1.63e5},{"x":"0.40","f":44670,"z":1.53e5},{"x":"0.40","f":50120,"z":1.44e5},{"x":"0.40","f":56230,"z":1.35e5},{"x":"0.40","f":63100,"z":1.26e5},{"x":"0.40","f":70790,"z":1.18e5},{"x":"0.40","f":79430,"z":1.11e5},{"x":"0.40","f":89130,"z":1.04e5},
      {"x":"0.40","f":100000,"z":9.70e4},{"x":"0.40","f":112200,"z":8.99e4},{"x":"0.40","f":125900,"z":8.22e4},{"x":"0.40","f":141300,"z":7.53e4},{"x":"0.40","f":158500,"z":6.89e4},{"x":"0.40","f":177800,"z":6.31e4},{"x":"0.40","f":199500,"z":5.82e4},{"x":"0.40","f":223900,"z":5.37e4},{"x":"0.40","f":251200,"z":4.95e4},{"x":"0.40","f":281800,"z":4.57e4},{"x":"0.40","f":316200,"z":4.21e4},{"x":"0.40","f":354800,"z":3.88e4},{"x":"0.40","f":398100,"z":3.58e4},{"x":"0.40","f":446700,"z":3.28e4},{"x":"0.40","f":501200,"z":2.94e4},{"x":"0.40","f":562300,"z":2.63e4},{"x":"0.40","f":631000,"z":2.42e4},{"x":"0.40","f":707900,"z":2.22e4},{"x":"0.40","f":794300,"z":2.04e4},{"x":"0.40","f":891300,"z":1.87e4},
      {"x":"0.40","f":1000000,"z":1.72e4},{"x":"0.40","f":1122000,"z":1.55e4},{"x":"0.40","f":1259000,"z":1.39e4},{"x":"0.40","f":1413000,"z":1.25e4},{"x":"0.40","f":1585000,"z":1.13e4},{"x":"0.40","f":1778000,"z":1.02e4},{"x":"0.40","f":2000000,"z":9.12e3},
      {"x":"0.40","f":211,"z":4.20e5},{"x":"0.40","f":237,"z":4.18e5},{"x":"0.40","f":266,"z":4.16e5},{"x":"0.40","f":299,"z":4.15e5},{"x":"0.40","f":335,"z":4.13e5},{"x":"0.40","f":376,"z":4.11e5},{"x":"0.40","f":422,"z":4.09e5},{"x":"0.40","f":473,"z":4.08e5},{"x":"0.40","f":531,"z":4.06e5},{"x":"0.40","f":596,"z":4.03e5},{"x":"0.40","f":668,"z":3.99e5},{"x":"0.40","f":750,"z":3.96e5},{"x":"0.40","f":841,"z":3.93e5},{"x":"0.40","f":944,"z":3.90e5},
      {"x":"0.40","f":2113,"z":3.58e5},{"x":"0.40","f":2371,"z":3.53e5},{"x":"0.40","f":2661,"z":3.49e5},{"x":"0.40","f":2985,"z":3.44e5},{"x":"0.40","f":3350,"z":3.39e5},{"x":"0.40","f":3758,"z":3.35e5},{"x":"0.40","f":4217,"z":3.31e5},{"x":"0.40","f":4732,"z":3.26e5},{"x":"0.40","f":5309,"z":3.22e5},{"x":"0.40","f":5957,"z":3.15e5},{"x":"0.40","f":6683,"z":3.05e5},{"x":"0.40","f":7499,"z":2.95e5},{"x":"0.40","f":8414,"z":2.85e5},{"x":"0.40","f":9441,"z":2.76e5},
      {"x":"0.40","f":21130,"z":2.27e5},{"x":"0.40","f":23710,"z":2.15e5},{"x":"0.40","f":26610,"z":2.03e5},{"x":"0.40","f":29850,"z":1.91e5},{"x":"0.40","f":33500,"z":1.79e5},{"x":"0.40","f":37580,"z":1.68e5},{"x":"0.40","f":42170,"z":1.58e5},{"x":"0.40","f":47320,"z":1.48e5},{"x":"0.40","f":53090,"z":1.39e5},{"x":"0.40","f":59570,"z":1.30e5},{"x":"0.40","f":66830,"z":1.22e5},{"x":"0.40","f":74990,"z":1.14e5},{"x":"0.40","f":84140,"z":1.07e5},{"x":"0.40","f":94410,"z":1.00e5},
      {"x":"0.40","f":211300,"z":5.59e4},{"x":"0.40","f":237100,"z":5.16e4},{"x":"0.40","f":266100,"z":4.76e4},{"x":"0.40","f":298500,"z":4.39e4},{"x":"0.40","f":335000,"z":4.04e4},{"x":"0.40","f":375800,"z":3.73e4},{"x":"0.40","f":421700,"z":3.43e4},{"x":"0.40","f":473200,"z":3.11e4},{"x":"0.40","f":530900,"z":2.78e4},{"x":"0.40","f":595700,"z":2.52e4},{"x":"0.40","f":668300,"z":2.32e4},{"x":"0.40","f":749900,"z":2.13e4},{"x":"0.40","f":841400,"z":1.95e4},{"x":"0.40","f":944100,"z":1.79e4},

      {"x":"0.50","f":20,"z":3.90e6},{"x":"0.50","f":30,"z":3.72e6},{"x":"0.50","f":40,"z":3.59e6},{"x":"0.50","f":50,"z":3.49e6},{"x":"0.50","f":60,"z":3.40e6},{"x":"0.50","f":70,"z":3.36e6},{"x":"0.50","f":80,"z":3.33e6},{"x":"0.50","f":90,"z":3.31e6},
      {"x":"0.50","f":100,"z":3.30e6},{"x":"0.50","f":112,"z":3.27e6},{"x":"0.50","f":126,"z":3.24e6},{"x":"0.50","f":141,"z":3.22e6},{"x":"0.50","f":158,"z":3.19e6},{"x":"0.50","f":178,"z":3.17e6},{"x":"0.50","f":200,"z":3.14e6},{"x":"0.50","f":224,"z":3.10e6},{"x":"0.50","f":251,"z":3.05e6},{"x":"0.50","f":282,"z":3.01e6},{"x":"0.50","f":316,"z":2.96e6},{"x":"0.50","f":355,"z":2.92e6},{"x":"0.50","f":398,"z":2.87e6},{"x":"0.50","f":447,"z":2.83e6},{"x":"0.50","f":501,"z":2.79e6},{"x":"0.50","f":562,"z":2.72e6},{"x":"0.50","f":631,"z":2.65e6},{"x":"0.50","f":708,"z":2.59e6},{"x":"0.50","f":794,"z":2.53e6},{"x":"0.50","f":891,"z":2.47e6},
      {"x":"0.50","f":1000,"z":2.41e6},{"x":"0.50","f":1122,"z":2.34e6},{"x":"0.50","f":1259,"z":2.28e6},{"x":"0.50","f":1413,"z":2.22e6},{"x":"0.50","f":1585,"z":2.15e6},{"x":"0.50","f":1778,"z":2.09e6},{"x":"0.50","f":1995,"z":2.04e6},{"x":"0.50","f":2239,"z":1.95e6},{"x":"0.50","f":2512,"z":1.85e6},{"x":"0.50","f":2818,"z":1.77e6},{"x":"0.50","f":3162,"z":1.69e6},{"x":"0.50","f":3548,"z":1.61e6},{"x":"0.50","f":3981,"z":1.54e6},{"x":"0.50","f":4467,"z":1.47e6},{"x":"0.50","f":5012,"z":1.40e6},{"x":"0.50","f":5623,"z":1.31e6},{"x":"0.50","f":6310,"z":1.23e6},{"x":"0.50","f":7079,"z":1.15e6},{"x":"0.50","f":7943,"z":1.08e6},{"x":"0.50","f":8913,"z":1.01e6},
      {"x":"0.50","f":10000,"z":9.46e5},{"x":"0.50","f":11220,"z":8.59e5},{"x":"0.50","f":12590,"z":8.04e5},{"x":"0.50","f":14130,"z":7.59e5},{"x":"0.50","f":15850,"z":7.13e5},{"x":"0.50","f":17780,"z":6.68e5},{"x":"0.50","f":19950,"z":6.25e5},{"x":"0.50","f":22390,"z":5.75e5},{"x":"0.50","f":25120,"z":5.24e5},{"x":"0.50","f":28180,"z":4.81e5},{"x":"0.50","f":31620,"z":4.45e5},{"x":"0.50","f":35480,"z":4.11e5},{"x":"0.50","f":39810,"z":3.80e5},{"x":"0.50","f":44670,"z":3.52e5},{"x":"0.50","f":50120,"z":3.26e5},{"x":"0.50","f":56230,"z":3.01e5},{"x":"0.50","f":63100,"z":2.72e5},{"x":"0.50","f":70790,"z":2.44e5},{"x":"0.50","f":79430,"z":2.20e5},{"x":"0.50","f":89130,"z":1.99e5},
      {"x":"0.50","f":100000,"z":1.79e5},{"x":"0.50","f":112200,"z":1.63e5},{"x":"0.50","f":125900,"z":1.50e5},{"x":"0.50","f":141300,"z":1.38e5},{"x":"0.50","f":158500,"z":1.27e5},{"x":"0.50","f":177800,"z":1.17e5},{"x":"0.50","f":199500,"z":1.04e5},{"x":"0.50","f":223900,"z":9.29e4},{"x":"0.50","f":251200,"z":8.26e4},{"x":"0.50","f":281800,"z":7.33e4},{"x":"0.50","f":316200,"z":6.52e4},{"x":"0.50","f":354800,"z":5.79e4},{"x":"0.50","f":398100,"z":5.15e4},{"x":"0.50","f":446700,"z":4.58e4},{"x":"0.50","f":501200,"z":4.08e4},{"x":"0.50","f":562300,"z":3.64e4},{"x":"0.50","f":631000,"z":3.24e4},{"x":"0.50","f":707900,"z":2.88e4},{"x":"0.50","f":794300,"z":2.57e4},{"x":"0.50","f":891300,"z":2.29e4},
      {"x":"0.50","f":1000000,"z":2.04e4},{"x":"0.50","f":1122000,"z":1.84e4},{"x":"0.50","f":1259000,"z":1.65e4},{"x":"0.50","f":1413000,"z":1.49e4},{"x":"0.50","f":1585000,"z":1.34e4},{"x":"0.50","f":1778000,"z":1.21e4},{"x":"0.50","f":2000000,"z":1.08e4},
      {"x":"0.50","f":211,"z":3.12e6},{"x":"0.50","f":237,"z":3.07e6},{"x":"0.50","f":266,"z":3.03e6},{"x":"0.50","f":299,"z":2.98e6},{"x":"0.50","f":335,"z":2.94e6},{"x":"0.50","f":376,"z":2.89e6},{"x":"0.50","f":422,"z":2.85e6},{"x":"0.50","f":473,"z":2.81e6},{"x":"0.50","f":531,"z":2.75e6},{"x":"0.50","f":596,"z":2.68e6},{"x":"0.50","f":668,"z":2.62e6},{"x":"0.50","f":750,"z":2.56e6},{"x":"0.50","f":841,"z":2.50e6},{"x":"0.50","f":944,"z":2.44e6},
      {"x":"0.50","f":2113,"z":1.99e6},{"x":"0.50","f":2371,"z":1.90e6},{"x":"0.50","f":2661,"z":1.81e6},{"x":"0.50","f":2985,"z":1.73e6},{"x":"0.50","f":3350,"z":1.65e6},{"x":"0.50","f":3758,"z":1.57e6},{"x":"0.50","f":4217,"z":1.50e6},{"x":"0.50","f":4732,"z":1.43e6},{"x":"0.50","f":5309,"z":1.35e6},{"x":"0.50","f":5957,"z":1.27e6},{"x":"0.50","f":6683,"z":1.19e6},{"x":"0.50","f":7499,"z":1.11e6},{"x":"0.50","f":8414,"z":1.04e6},{"x":"0.50","f":9441,"z":9.77e5},
      {"x":"0.50","f":21130,"z":6.00e5},{"x":"0.50","f":23710,"z":5.49e5},{"x":"0.50","f":26610,"z":5.02e5},{"x":"0.50","f":29850,"z":4.63e5},{"x":"0.50","f":33500,"z":4.28e5},{"x":"0.50","f":37580,"z":3.95e5},{"x":"0.50","f":42170,"z":3.66e5},{"x":"0.50","f":47320,"z":3.39e5},{"x":"0.50","f":53090,"z":3.13e5},{"x":"0.50","f":59570,"z":2.86e5},{"x":"0.50","f":66830,"z":2.58e5},{"x":"0.50","f":74990,"z":2.32e5},{"x":"0.50","f":84140,"z":2.09e5},{"x":"0.50","f":94410,"z":1.89e5},
      {"x":"0.50","f":211300,"z":9.83e4},{"x":"0.50","f":237100,"z":8.76e4},{"x":"0.50","f":266100,"z":7.78e4},{"x":"0.50","f":298500,"z":6.91e4},{"x":"0.50","f":335000,"z":6.14e4},{"x":"0.50","f":375800,"z":5.46e4},{"x":"0.50","f":421700,"z":4.86e4},{"x":"0.50","f":473200,"z":4.32e4},{"x":"0.50","f":530900,"z":3.85e4},{"x":"0.50","f":595700,"z":3.43e4},{"x":"0.50","f":668300,"z":3.05e4},{"x":"0.50","f":749900,"z":2.72e4},{"x":"0.50","f":841400,"z":2.43e4},{"x":"0.50","f":944100,"z":2.16e4}
    ],
    "formula": [
      {"t": "Ba", "f": 10840, "z": 3.4e7},
      {"t": "Y", "f": 30400, "z": 3.4e7},
      {"t": "Cu", "f": 90000, "z": 3.4e7},
      {"t": "TaO", "f": 257800, "z": 3.4e7}
    ],
    "formulaSub": [
      {"t": "2", "f": 23220, "z": 2.62e7},
      {"t": "1-x", "f": 48900, "z": 2.62e7},
      {"t": "x", "f": 203000, "z": 2.62e7},
      {"t": "6-y", "f": 879000, "z": 2.62e7}
    ]
  },
  "layer": [
    {
      "data": {"name": "impedance"},
      "mark": {"type": "point", "filled": true, "opacity": 1, "strokeWidth": 0},
      "encoding": {
        "x": {
          "field": "f", "type": "quantitative", "title": "f (Hz)",
          "scale": {"type": "log", "domain": [10, 3000000], "nice": false},
          "axis": {
            "orient": "bottom",
            "values": [10,20,30,40,50,60,70,80,90,100,200,300,400,500,600,700,800,900,1000,2000,3000,4000,5000,6000,7000,8000,9000,10000,20000,30000,40000,50000,60000,70000,80000,90000,100000,200000,300000,400000,500000,600000,700000,800000,900000,1000000,2000000],
            "tickSize": {"condition": {"test": "abs(log(datum.value)/LN10 - round(log(datum.value)/LN10)) < 0.01", "value": -34}, "value": -17},
            "labelExpr": "abs(log(datum.value)/LN10 - round(log(datum.value)/LN10)) < 0.01 ? '10' + ['⁰','¹','²','³','⁴','⁵','⁶','⁷','⁸','⁹'][round(log(datum.value)/LN10)] : ''",
            "labelBaseline": "alphabetic",
            "labelPadding": 168,
            "titlePadding": 35
          }
        },
        "y": {
          "field": "z", "type": "quantitative", "title": "|Z|",
          "scale": {"type": "log", "domain": [1000, 200000000], "nice": false},
          "axis": {
            "orient": "left",
            "values": [1000,2000,3000,4000,5000,6000,7000,8000,9000,10000,20000,30000,40000,50000,60000,70000,80000,90000,100000,200000,300000,400000,500000,600000,700000,800000,900000,1000000,2000000,3000000,4000000,5000000,6000000,7000000,8000000,9000000,10000000,20000000,30000000,40000000,50000000,60000000,70000000,80000000,90000000,100000000],
            "tickSize": {"condition": {"test": "abs(log(datum.value)/LN10 - round(log(datum.value)/LN10)) < 0.01", "value": -34}, "value": -17},
            "labelExpr": "abs(log(datum.value)/LN10 - round(log(datum.value)/LN10)) < 0.01 ? '10' + ['⁰','¹','²','³','⁴','⁵','⁶','⁷','⁸','⁹'][round(log(datum.value)/LN10)] : ''",
            "labelAlign": "right",
            "labelBaseline": "middle",
            "labelPadding": 74,
            "titlePadding": 80
          }
        },
        "color": {
          "field": "x", "type": "nominal",
          "scale": {"domain": ["0.00","0.10","0.20","0.30","0.40","0.50"], "range": ["#000000","#FF00FF","#0000FF","#008000","#808000","#FF8000"]},
          "legend": {
            "title": null,
            "orient": "none",
            "legendX": 167,
            "legendY": 1077,
            "padding": 0,
            "labelExpr": "'x = ' + datum.label",
            "labelFont": "Liberation Serif",
            "labelFontSize": 91,
            "labelColor": "black",
            "labelOffset": 50,
            "labelLimit": 0,
            "rowPadding": 22,
            "symbolStrokeWidth": 0
          }
        },
        "shape": {
          "field": "x", "type": "nominal",
          "scale": {"domain": ["0.00","0.10","0.20","0.30","0.40","0.50"], "range": ["square","circle","triangle-up","triangle-down","diamond","triangle-left"]}
        },
        "size": {
          "field": "x", "type": "nominal",
          "scale": {"domain": ["0.00","0.10","0.20","0.30","0.40","0.50"], "range": [430, 560, 820, 820, 930, 870]}
        },
        "order": {"field": "x", "sort": "ascending"}
      }
    },
    {
      "data": {"name": "impedance"},
      "mark": {"type": "point", "opacity": 0},
      "encoding": {
        "x": {
          "field": "f", "type": "quantitative",
          "scale": {"type": "log", "domain": [10, 3000000], "nice": false},
          "axis": {
            "orient": "top", "title": null, "labels": false,
            "values": [10,20,30,40,50,60,70,80,90,100,200,300,400,500,600,700,800,900,1000,2000,3000,4000,5000,6000,7000,8000,9000,10000,20000,30000,40000,50000,60000,70000,80000,90000,100000,200000,300000,400000,500000,600000,700000,800000,900000,1000000,2000000],
            "tickSize": {"condition": {"test": "abs(log(datum.value)/LN10 - round(log(datum.value)/LN10)) < 0.01", "value": -34}, "value": -17}
          }
        },
        "y": {
          "field": "z", "type": "quantitative",
          "scale": {"type": "log", "domain": [1000, 200000000], "nice": false},
          "axis": {
            "orient": "right", "title": null, "labels": false,
            "values": [1000,2000,3000,4000,5000,6000,7000,8000,9000,10000,20000,30000,40000,50000,60000,70000,80000,90000,100000,200000,300000,400000,500000,600000,700000,800000,900000,1000000,2000000,3000000,4000000,5000000,6000000,7000000,8000000,9000000,10000000,20000000,30000000,40000000,50000000,60000000,70000000,80000000,90000000,100000000],
            "tickSize": {"condition": {"test": "abs(log(datum.value)/LN10 - round(log(datum.value)/LN10)) < 0.01", "value": -34}, "value": -17}
          }
        }
      }
    },
    {
      "data": {"name": "formula"},
      "mark": {"type": "text", "font": "Liberation Serif", "fontSize": 120, "align": "left", "baseline": "alphabetic", "color": "black"},
      "encoding": {
        "x": {"field": "f", "type": "quantitative", "scale": {"type": "log", "domain": [10, 3000000], "nice": false}, "axis": null},
        "y": {"field": "z", "type": "quantitative", "scale": {"type": "log", "domain": [1000, 200000000], "nice": false}, "axis": null},
        "text": {"field": "t"}
      }
    },
    {
      "data": {"name": "formulaSub"},
      "mark": {"type": "text", "font": "Liberation Serif", "fontSize": 78, "align": "left", "baseline": "alphabetic", "color": "black"},
      "encoding": {
        "x": {"field": "f", "type": "quantitative", "scale": {"type": "log", "domain": [10, 3000000], "nice": false}, "axis": null},
        "y": {"field": "z", "type": "quantitative", "scale": {"type": "log", "domain": [1000, 200000000], "nice": false}, "axis": null},
        "text": {"field": "t"}
      }
    }
  ],
  "resolve": {"axis": {"x": "independent", "y": "independent"}}
}
